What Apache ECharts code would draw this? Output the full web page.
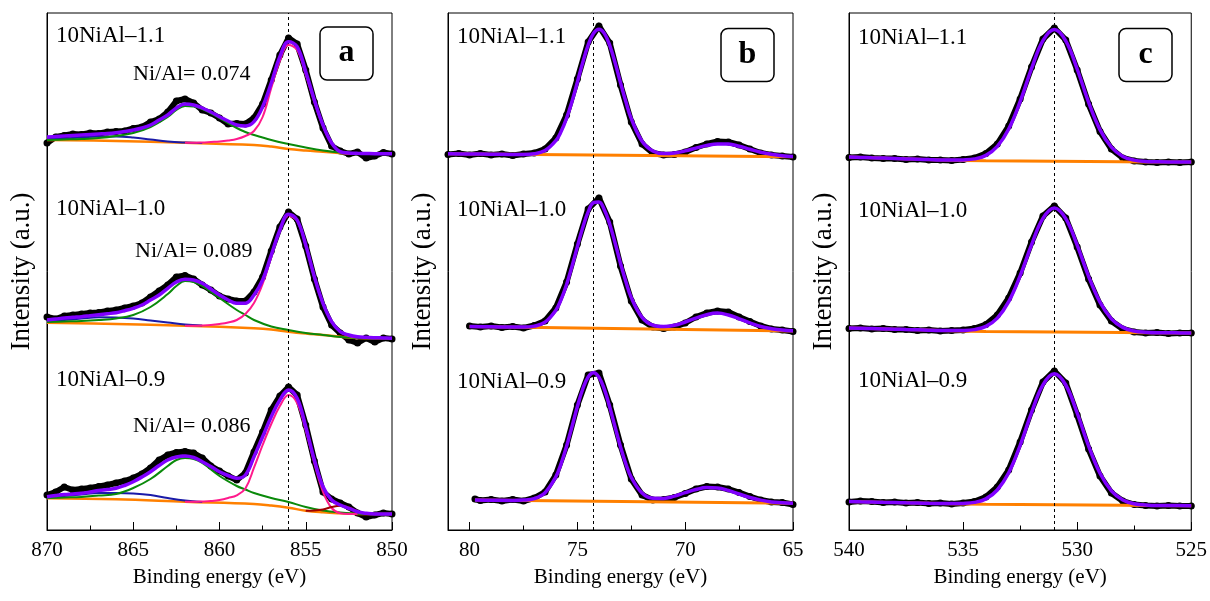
<!DOCTYPE html>
<html><head><meta charset="utf-8">
<script src="https://cdn.jsdelivr.net/npm/echarts@6/dist/echarts.min.js"></script>
<style>html,body{margin:0;padding:0;background:#fff}#c{width:1210px;height:601px}</style>
</head><body><div id="c"></div>
<script>
// ---------------- DATA ----------------
const sampleNames = ['10NiAl\u20131.1', '10NiAl\u20131.0', '10NiAl\u20130.9'];
const niAlRatios = ['Ni/Al= 0.074', 'Ni/Al= 0.089', 'Ni/Al= 0.086'];
const panelLetters = ['a', 'b', 'c'];
const xAxisName = 'Binding energy (eV)';
const yAxisName = 'Intensity (a.u.)';
const refLines = [856, 74.25, 531];

// Panel a: Ni 2p
const eA = [870,869.5,869,868.5,868,867.5,867,866.5,866,865.5,865,864.5,864,863.5,863,862.5,862,861.5,861,860.5,860,859.5,859,858.5,858,857.5,857,856.5,856,855.5,855,854.5,854,853.5,853,852.5,852,851.5,851,850.5,850];
const a1Data = [387,393,394.5,396,395.5,397,396.5,398,398.5,399,401.5,403,408,411,418,429,431,427,420,417,412,406,406.5,406,412,426,450,475,492,486,460,428,402,384,379,376,378,372,374,377.5,376];
const a1Fit  = [393,393.5,394,394.5,395,395.5,396,396.5,397.3,398.5,400,402,405,410,415,422,426,425,422,418,413.3,409,405,404,408.3,423.3,447,473.3,488.3,483.3,458.3,430,405,387,378.3,377,376.7,376.5,376.3,376.3,376.3];
const a2Data = [213,211,214,215,216,217,217.5,219,220,222,224,227,233,239,245,253,254.5,251,245,240,234,231,229,229,238,253,279,303,318,311,284,251,223,205,197,190,187,192,188,192,191];
const a2Fit  = [210,211,212,212.7,213.3,214.3,215.3,216.3,217.3,219.3,221.7,225,230,235,241.7,248,250.7,250,246.7,241,235,230,226.7,226.7,235,250,275,300,315.7,310,285,253.3,226.7,208.3,198.3,195,193.3,192.7,192.3,192,191.7];
const a3Data = [35,38,43,40,41,42,43.5,45,47,49,52,56,62,70,75,77.5,78.5,77,72,64,59,54,50,57,78,98,120,134,143,135,105,69,38,31,27,23,17,13,15,17,16];
const a3Fit  = [33.3,34.5,35.5,36,36.7,38,39.5,40.5,41.7,44.5,48.3,53,58.3,64.5,70,73,74,72.5,68.3,63.5,58.3,54.5,51.7,55,73.3,93.3,113.3,130,140,131.7,103.3,70,43.3,30,25,21.7,18.3,16.7,16,16,16];

const eABase = [870,866,862,858,857,856,855,854,853,852,850];
const a1Base = [390,389,387.3,385,383.4,381,379.5,378.3,377,376.3,376.3];
const a2Base = [207.3,206,204.3,201.7,200.5,198.3,196.5,195,193.3,192,191.7];
const a3Base = [31.7,30.7,28.3,26,24.5,22.3,19.3,17.7,16.7,16,16];

const eAGreen = [870,869,868,867,866,865,864,863,862.5,862,861.5,861,860,859,858.5,858,857,856,855,854,853,852,851];
const a1Green = [390,390.5,391,392,394,397,403,413,420,424,423.5,421,412,402,398,395,390,386,382.5,379.5,377.5,376.5,376.3];
const a2Green = [208,208.5,209,210,211.5,215,223,236,244,249,248,244,232,220,215,210,203.5,200,197,195,193,192,191.7];
const a3Green = [32,32.5,33,34.5,36,42,51,64,70,72,71,67,54,44,40.5,37,32,28,23,19.5,17.5,16.3,16];

const eABlue = [870,869,868,867,866,865,864,863,862,861];
const a1Blue = [390.5,391.5,392.5,393.5,393.5,392.5,390.5,388.5,387.5,387];
const a2Blue = [208.5,210,211.5,212.7,212.5,211.5,209.5,207.5,205.5,204.5];
const a3Blue = [32.5,34,35.5,37,37,36.5,35,32,29.5,28];

const eAPink = [862,861.5,861,860.5,860,859.5,859,858.5,858,857.5,857,856.5,856,855.5,855,854.5,854,853.5,853,852.5,852];
const a1Pink = [387.3,387.2,387.5,388,388.5,389.5,391,394,399,413,442,469,485,480,455.3,427.9,403.8,386.2,378.3,376.5,376.3];
const a2Pink = [204.3,204.3,204.5,205,206,207.5,210,216,227,246,273,299,314,309,284,252,226,208,198,194,192.5];
const a3Pink = [28.3,28.2,28.5,29,30,32,34.7,41.5,62.3,85,106,124,135,127,99.6,66.5,38.2,22,16.7,16,16];

const eARed = [855,854.5,854,853.5,853,852.5,852,851.5,851];
const a3Red = [19.3,19.5,20.5,23,24.3,22.5,19,16.5,16];

// Panel b: Al 2p
const eB1 = [81,80.5,80,79.5,79,78.5,78,77.5,77,76.5,76,75.5,75,74.5,74,73.5,73,72.5,72,71.5,71,70.5,70,69.5,69,68.5,68,67.5,67,66.5,66,65.5,65];
const b1Data = [375.5,376.5,375,376.5,375,376,374.5,376,377,381,392,415,451,488,504,487,445,408,386,377,375,375.5,378,382.5,386,388.5,388,385,381,377,375,374,373];
const eB2 = [80,79.5,79,78.5,78,77.5,77,76.5,76,75.5,75,74.5,74,73.5,73,72.5,72,71.5,71,70.5,70,69.5,69,68.5,68,67.5,67,66.5,66,65.5,65];
const b2Data = [204,203,204,202.5,203.5,202,204.5,209,222,248,286,321,332,308,264,229,210,203,201.5,203,207,213,217,219,218,213,208.5,204,201,200,198.5];
const eB3 = [79.75,79.5,79,78.5,78,77.5,77,76.5,76,75.5,75,74.5,74,73.5,73,72.5,72,71.5,71,70.5,70,69.5,69,68.5,68,67.5,67,66.5,66,65.5,65];
const b3Data = [31,29.5,30.5,29,30.5,29,32,38,55,85,125,155,157,125,85,51,35,30,30.5,32.5,36.5,41,43.5,43,41,37.5,33.5,30,28,27.5,25.5];

const eB1Fit = [81,80,79,78,77.5,77,76.5,76,75.75,75.5,75.25,75,74.75,74.5,74.25,74,73.75,73.5,73.25,73,72.75,72.5,72,71.5,71,70.5,70,69.5,69,68.5,68,67.5,67,66.5,66,65.5,65];
const b1Fit = [376.2,376,375.8,375.6,375.6,376.3,379.4,389.3,398.7,411.9,428.6,447.8,467.6,484.8,496.7,500.8,496.6,484.6,467.3,447.4,428.2,411.4,388.8,379,376.4,377,379.1,381.9,384.6,386.1,385.9,383.8,380.8,377.8,375.7,374.3,373.6];
const eB2Fit = [80,79,78,77.5,77,76.5,76,75.75,75.5,75.25,75,74.75,74.5,74.25,74,73.75,73.5,73.25,73,72.75,72.5,72,71.5,71,70.5,70,69.5,69,68.5,68,67.5,67,66.5,66,65.5,65];
const b2Fit = [203.5,203.2,202.9,202.9,203.9,207.8,219.8,230.8,245.5,263.6,283.4,302.6,318.1,327.3,328,320.3,305.8,287,266.8,248.2,232.4,212.6,204.8,203.4,204.7,208,211.8,215.3,216.9,215,211.2,207.1,203.5,201.3,199.9,199.2];
const eB3Fit = [79.75,79,78,77.5,77,76.5,76,75.75,75.5,75.25,75,74.75,74.5,74.25,74,73.75,73.5,73.25,73,72.75,72.5,72,71.5,71,70.5,70,69.5,69,68.5,68,67.5,67,66.5,66,65.5,65];
const b3Fit = [30,29.8,29.6,29.9,31.4,37.3,53.2,66.6,83.7,103.3,123.4,141,153,157.3,152.9,140.8,123,102.9,83.1,66,52.6,36.9,31.7,31.6,33.9,37.3,40.5,42.4,42.1,39.6,36,32.5,29.9,28.1,27.3,26.8];

const eB1Base = [81,65], b1Base = [376.2,373.2];
const eB2Base = [80,65], b2Base = [203.5,199];
const eB3Base = [79.75,65], b3Base = [30,26.7];

// Panel c: O 1s
const eC = [540,539.5,539,538.5,538,537.5,537,536.5,536,535.5,535,534.5,534,533.5,533,532.5,532,531.5,531,530.5,530,529.5,529,528.5,528,527.5,527,526.5,526,525.5,525];
const c1Data = [372.5,373,372,371.5,371.5,370.5,371,370,370,369.5,370.5,372,376.5,386,404,431,463,491,502,490,460,426,398.5,381,372,369,368,367.5,368,367.5,368];
const c1Fit  = [373,372.6,372.2,371.9,371.5,371.1,370.8,370.4,370,369.9,370.1,371.1,374.6,383.6,401,428.3,461.4,489.3,500.4,489.1,461,427.9,400.4,382.8,373.6,369.9,368.6,368.2,368,368,368];
const c2Data = [201.5,202,201,201.5,200.5,200.5,199.5,200,199,199.5,200,201.5,205.5,215,232,257,288,314,324,312,283,251,225,209,201,198,197,197.5,196.5,197,197];
const c2Fit  = [202,201.7,201.4,201.1,200.8,200.5,200.2,199.8,199.5,199.4,199.5,200.4,203.6,211.9,228.3,254.1,285.1,311.6,322,311.4,284.8,253.7,227.8,211.2,202.6,199,197.7,197.2,197.2,197.1,197];
const c3Data = [28,29,28.5,27.5,28,27,27.5,26.5,27,26,27,28.5,33,43,60,88,120,148,159,147,115,81,54,37,29,25.5,24.5,24,24.5,24,24];
const c3Fit  = [28.5,28.2,28,27.7,27.5,27.2,27,26.7,26.5,26.4,26.6,27.6,31.1,40,57.2,84.5,117.3,145.1,156.2,145,117,84.1,56.7,39.2,30.1,26.3,25.1,24.5,24.4,24.4,24.3];
const eCBase = [540,538,536,534,531,528,525];
const c1Base = [373,371.5,370,369.2,368.7,368.2,368];
const c2Base = [202,200.8,199.5,198.5,198,197.5,197];
const c3Base = [28.5,27.5,26.5,25.7,25.2,24.7,24.3];

// ---------------- CHART ----------------
const FONT = '"Liberation Serif","Times New Roman",serif';
const COL = {data:'#000', fit:'#8000ff', base:'#ff8000', pink:'#ff1a8c', green:'#0a8a0a', blue:'#1a1aa8', red:'#a00000'};
const panels = [
  {left:47, min:850, max:870},
  {left:448, min:65, max:81},
  {left:849, min:525, max:540}
];
const pairs = (E, V) => E.map((e, i) => [e, V[i]]);

const chart = echarts.init(document.getElementById('c'), null, {renderer:'canvas'});
const grid = [], xAxis = [], yAxis = [], series = [];
panels.forEach((p, i) => {
  grid.push({left:p.left, top:13, width:345, height:517, show:true, borderColor:'#000', borderWidth:1, backgroundColor:'transparent'});
  xAxis.push({type:'value', gridIndex:i, min:p.min, max:p.max, inverse:true, interval:5, position:'bottom',
    axisLine:{show:true, onZero:false, lineStyle:{color:'#000', width:1}},
    axisTick:{show:true, inside:true, length:8, lineStyle:{color:'#000', width:1}},
    axisLabel:{show:true, margin:10, color:'#000', fontFamily:FONT, fontSize:21, formatter: v => (Math.abs(v % 5) < 1e-9 ? String(v) : '')},
    splitLine:{show:false},
    name:xAxisName, nameLocation:'middle', nameGap:37,
    nameTextStyle:{color:'#000', fontFamily:FONT, fontSize:21}});
  xAxis.push({type:'value', gridIndex:i, min:p.min, max:p.max, inverse:true, interval:2.5, position:'bottom',
    axisLine:{show:false, onZero:false}, axisTick:{show:true, inside:true, length:4.5, lineStyle:{color:'#000', width:1}},
    axisLabel:{show:false}, splitLine:{show:false}});
  yAxis.push({type:'value', gridIndex:i, min:0, max:517,
    axisLine:{show:true, lineStyle:{color:'#000', width:1}}, axisTick:{show:false}, axisLabel:{show:false}, splitLine:{show:false},
    name:yAxisName, nameLocation:'middle', nameGap:12, nameRotate:90,
    nameTextStyle:{color:'#000', fontFamily:FONT, fontSize:27}});
});

function dataSeries(gi, E, V) {
  return {type:'line', xAxisIndex:gi*2, yAxisIndex:gi, data:pairs(E, V), z:2,
    symbol:'circle', symbolSize:7, showSymbol:true, showAllSymbol:true,
    itemStyle:{color:COL.data}, lineStyle:{color:COL.data, width:6, join:'round', cap:'round'}, silent:true, animation:false};
}
function curve(gi, E, V, color, width, z, smooth) {
  return {type:'line', xAxisIndex:gi*2, yAxisIndex:gi, data:pairs(E, V), z:z,
    symbol:'none', smooth: smooth === undefined ? 0.4 : smooth,
    lineStyle:{color:color, width:width}, silent:true, animation:false};
}
function refLine(gi, x) {
  return {type:'line', xAxisIndex:gi*2, yAxisIndex:gi, data:[], z:1, silent:true, animation:false,
    markLine:{silent:true, symbol:['none','none'], animation:false, label:{show:false},
      lineStyle:{color:'#000', type:[3,3], width:1}, data:[{xAxis:x}]}};
}

// panel a
series.push(refLine(0, refLines[0]));
[[a1Data,a1Fit,a1Base,a1Blue,a1Green,a1Pink],[a2Data,a2Fit,a2Base,a2Blue,a2Green,a2Pink],[a3Data,a3Fit,a3Base,a3Blue,a3Green,a3Pink]].forEach(s => {
  series.push(dataSeries(0, eA, s[0]));
  series.push(curve(0, eABase, s[2], COL.base, 2.5, 3));
  series.push(curve(0, eABlue, s[3], COL.blue, 2, 4));
  series.push(curve(0, eAGreen, s[4], COL.green, 2, 4));
  series.push(curve(0, eAPink, s[5], COL.pink, 2, 4));
});
series.push(curve(0, eARed, a3Red, COL.red, 2, 4));
[a1Fit, a2Fit, a3Fit].forEach(f => series.push(curve(0, eA, f, COL.fit, 3.5, 6)));

// panel b
series.push(refLine(1, refLines[1]));
[[eB1,b1Data,eB1Fit,b1Fit,eB1Base,b1Base],[eB2,b2Data,eB2Fit,b2Fit,eB2Base,b2Base],[eB3,b3Data,eB3Fit,b3Fit,eB3Base,b3Base]].forEach(s => {
  series.push(dataSeries(1, s[0], s[1]));
  series.push(curve(1, s[4], s[5], COL.base, 3, 3, false));
  series.push(curve(1, s[2], s[3], COL.fit, 3.5, 6));
});

// panel c
series.push(refLine(2, refLines[2]));
[[c1Data,c1Fit,c1Base],[c2Data,c2Fit,c2Base],[c3Data,c3Fit,c3Base]].forEach(s => {
  series.push(dataSeries(2, eC, s[0]));
  series.push(curve(2, eCBase, s[2], COL.base, 3, 3));
  series.push(curve(2, eC, s[1], COL.fit, 3.5, 6));
});

// annotations
const labelPos = [
  [[56, 36], [56, 209], [56, 380]],
  [[457, 37], [457, 210], [457, 382]],
  [[858, 38], [858, 211], [858, 381]]
];
const ratioPos = [[133, 74], [135, 251], [133, 426]];
const boxPos = [[320, 27], [721, 28.5], [1119, 28.5]];
const graphic = [];
function txt(x, y, t, size, bold, align) {
  return {type:'text', x:x, y:y, z:100, silent:true,
    style:{text:t, fill:'#000', font:(bold ? 'bold ' : '') + size + 'px ' + FONT,
      textAlign:align || 'left', textVerticalAlign:'middle', align:align || 'left', verticalAlign:'middle'}};
}
labelPos.forEach(pp => pp.forEach((q, k) => graphic.push(txt(q[0], q[1], sampleNames[k], 23))));
ratioPos.forEach((q, k) => graphic.push(txt(q[0], q[1], niAlRatios[k], 22)));
boxPos.forEach((q, k) => {
  graphic.push({type:'rect', z:99, silent:true, shape:{x:q[0], y:q[1], width:53, height:53, r:7},
    style:{fill:'#fff', stroke:'#000', lineWidth:1.5}});
  graphic.push(txt(q[0] + 26.5, q[1] + 26, panelLetters[k], 32, true, 'center'));
});

chart.setOption({animation:false, backgroundColor:'#fff', grid, xAxis, yAxis, series, graphic});
</script>
</body></html>
